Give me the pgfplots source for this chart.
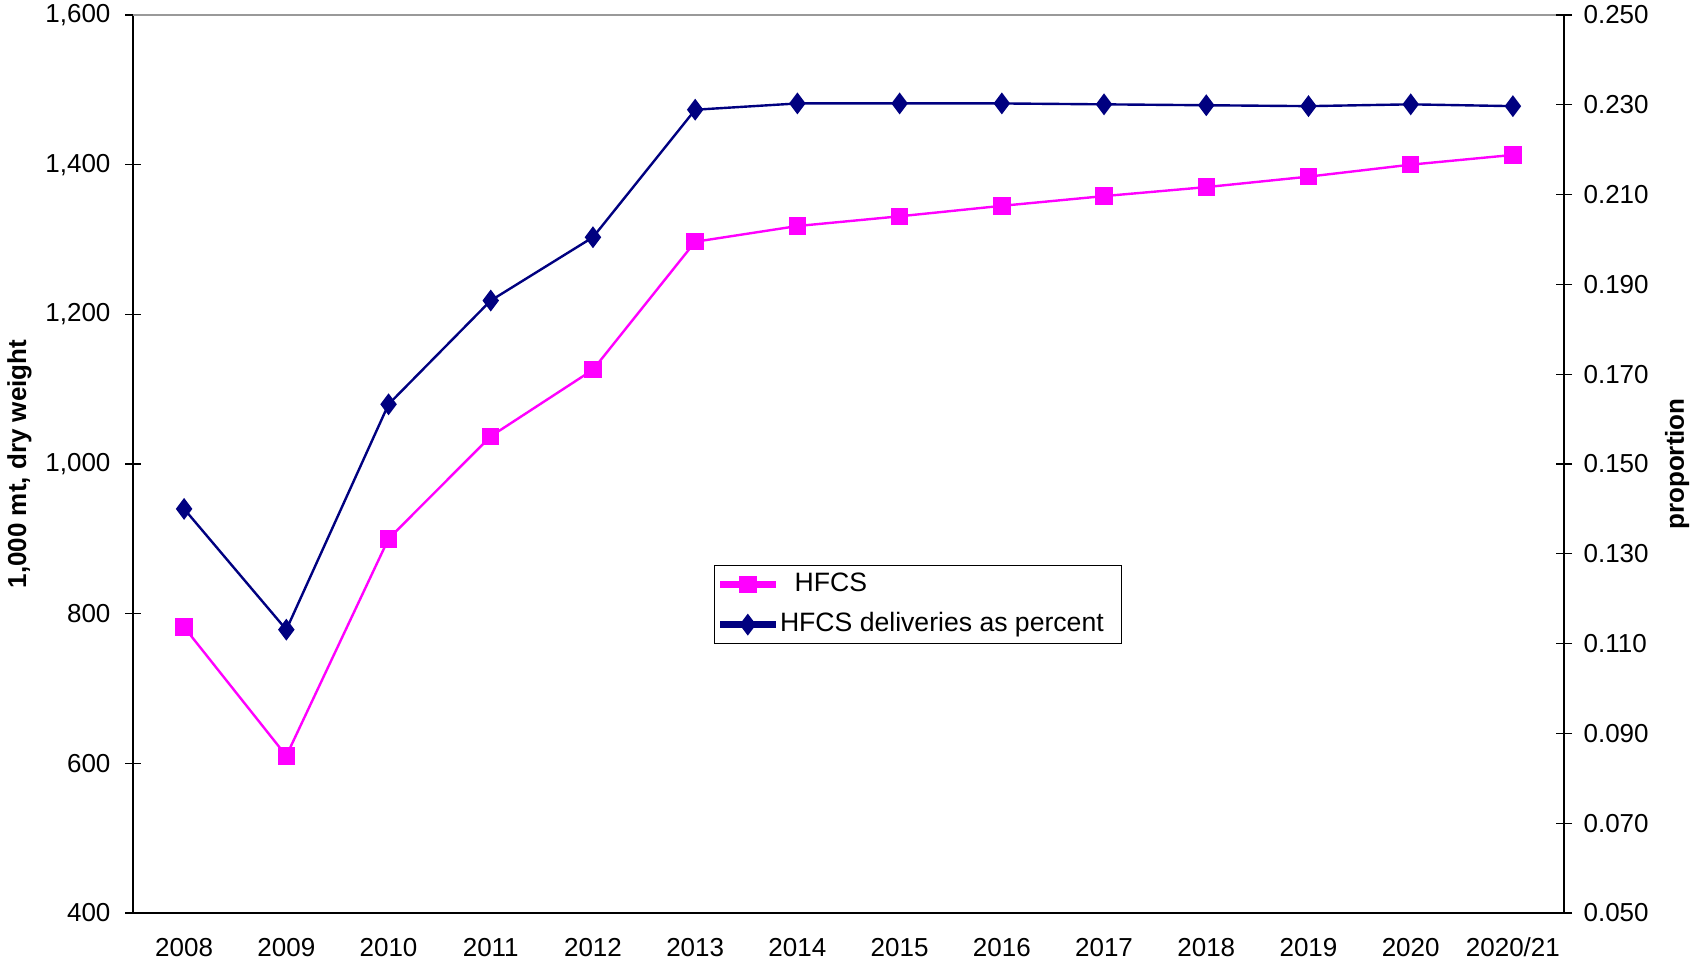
\documentclass[border=0pt]{standalone}
\usepackage{pgfplots}
\pgfplotsset{compat=1.18}
\usepackage{fontspec}
\setmainfont{Liberation Sans}
\definecolor{hfcs}{RGB}{255,0,255}
\definecolor{deliv}{RGB}{0,0,128}
\begin{document}
\begin{tikzpicture}
\useasboundingbox (-66.5pt,-25.5pt) rectangle (778.5pt,456.5pt);
\pgfplotsset{
  common/.style={
    width=715.5pt, height=449pt, scale only axis,
    at={(0,0)}, anchor=south west,
    xmin=-0.5, xmax=13.5,
    font=\fontsize{13}{15}\selectfont,
    /pgf/number format/assume math mode=true,
    tick align=center,
    major tick length=8pt, minor tick length=8pt,
    axis line style={black, line width=0.8pt},
    tick style={black, line width=0.6pt},
    clip=false,
  }
}
\begin{axis}[common,
  ymin=400, ymax=1600, ytick={400,600,...,1600},
  ytick pos=left, xtick pos=bottom,
  /pgf/number format/1000 sep={,},
  xtick={0,...,13},
  xticklabels={2008,2009,2010,2011,2012,2013,2014,2015,2016,2017,2018,2019,2020,2020/21},
  minor xtick={-0.5,0.5,...,13.5},
  xtick style={draw=none},
  minor x tick style={black, line width=0.6pt},
  x tick label style={yshift=-5pt},
  y tick label style={xshift=-3.75pt},
  every axis y label/.style={at={(axis description cs:-0.0793,0.5)}, rotate=90, anchor=center, font=\fontsize{13}{15}\selectfont\bfseries},
  ylabel={1,000 mt, dry weight},
]
\addplot[hfcs, line width=1.2pt, mark=square*, mark size=3.75pt, mark options={solid}] coordinates {
(0,782) (1,610) (2,900) (3,1037) (4,1126) (5,1297) (6,1318) (7,1331) (8,1345) (9,1358) (10,1370) (11,1384) (12,1400) (13,1413)
};
\draw[gray!80, line width=1pt] (rel axis cs:0,1) -- (rel axis cs:1,1);
\end{axis}
\begin{axis}[common,
  axis x line=none,
  axis y line*=right,
  ymin=0.05, ymax=0.25, ytick={0.05,0.07,...,0.26},
  /pgf/number format/.cd, fixed, fixed zerofill, precision=3, /pgfplots/.cd,
  y tick label style={xshift=2.25pt},
  every axis y label/.style={at={(axis description cs:1.079,0.5)}, rotate=90, anchor=center, font=\fontsize{13}{15}\selectfont\bfseries},
  ylabel={proportion},
  legend style={at={(0.406,0.3875)}, anchor=north west, draw=black, line width=0.6pt,
    font=\fontsize{13.3}{15}\selectfont, inner xsep=2.5pt, inner ysep=1.25pt,
    row sep=3.5pt,
    nodes={inner sep=2pt, text height=9.5pt, text depth=3pt}},
  legend cell align=left,
  legend image code/.code={\draw[#1, mark=none] (0pt,0pt) -- (27pt,0pt);
    \path[use as bounding box] (0pt,-1pt) rectangle (27pt,1pt);
    \draw[#1, only marks] plot coordinates {(13.5pt,0pt)};},
]
\addlegendimage{hfcs, line width=1.2pt, mark=square*, mark size=3.75pt}
\addlegendentry{\hspace*{7.3pt}HFCS}
\addplot[deliv, line width=1.2pt, mark=diamond*, mark size=4.5pt, mark options={solid}] coordinates {
(0,0.140) (1,0.1131) (2,0.1633) (3,0.1864) (4,0.2005) (5,0.2289) (6,0.2303) (7,0.2303) (8,0.2303) (9,0.2301) (10,0.2299) (11,0.2297) (12,0.2301) (13,0.2297)
};
\addlegendentry{HFCS deliveries as percent\hspace*{4.5pt}}
\end{axis}
\end{tikzpicture}
\end{document}
